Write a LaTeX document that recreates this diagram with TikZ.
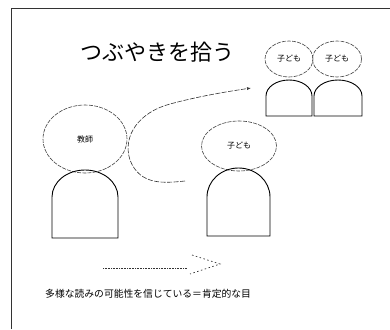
\documentclass[tikz,border=0pt]{standalone}
\usepackage{fontspec}
\newfontfamily\jp{Noto Sans CJK JP}
\usetikzlibrary{shapes.geometric,arrows.meta}
\tikzset{
  head/.style={ellipse, draw=black!75, line width=0.6pt, dash pattern=on 4pt off 1.2pt, inner sep=0pt, font=\jp\fontsize{8}{9}\selectfont},
  bodyline/.style={draw=black, line width=0.9pt},
  frameline/.style={draw=black!80, line width=0.8pt},
}
\begin{document}
\begin{tikzpicture}[x=1pt,y=-1pt]
\useasboundingbox (0,0) rectangle (390,329);
% frame
\draw[frameline] (11,329) -- (11,8) -- (390,8);
% title
\node[font=\jp\fontsize{22}{24}\selectfont] (title) at (157,52) {つぶやきを拾う};
% teacher
\node[head, minimum width=84pt, minimum height=68pt] (teacher) at (85,139) {教師};
\draw[bodyline] (52,238) -- (52,197) arc[start angle=180, end angle=360, x radius=33, y radius=27] -- (118,238) -- cycle;
% child center
\node[head, minimum width=75pt, minimum height=50pt] (child) at (239,146) {子ども};
\draw[bodyline] (207,236) -- (207,197) arc[start angle=180, end angle=360, x radius=31.5, y radius=29] -- (270,236) -- cycle;
% top-right children
\node[head, minimum width=48pt, minimum height=36pt] (childA) at (289,59) {子ども};
\draw[bodyline] (266,116) -- (266,96) arc[start angle=180, end angle=360, x radius=23, y radius=16] -- (312,116) -- cycle;
\node[head, minimum width=49pt, minimum height=36pt] (childB) at (337,59) {子ども};
\draw[bodyline] (314,116) -- (314,96) arc[start angle=180, end angle=360, x radius=24, y radius=16] -- (362,116) -- cycle;
% curved dashed arrow
\coordinate (cs) at (185,181);
\coordinate (ce) at (251,88);
\draw[black!80, line width=0.6pt, dash pattern=on 5pt off 1.5pt, -{Latex[length=4pt,width=3pt]}]
  (cs) .. controls (165,183) and (140,186) .. (130,160)
  .. controls (122,135) and (140,112) .. (170,104)
  .. controls (200,96) and (225,92) .. (ce);
% dotted arrow
\coordinate (ds) at (103,268);
\coordinate (de) at (187,268);
\coordinate (tip) at (220,264);
\draw[black!80, line width=0.7pt, dash pattern=on 1pt off 0.6pt] (ds) -- (de);
\draw[black!80, line width=0.7pt, dash pattern=on 1.5pt off 2.5pt] (192,255) -- (tip) -- (190,274);
% bottom text
\node[font=\jp\fontsize{9.8}{11}\selectfont, anchor=west, inner sep=0pt] (caption) at (45,294) {多様な読みの可能性を信じている＝肯定的な目};
\end{tikzpicture}
\end{document}
